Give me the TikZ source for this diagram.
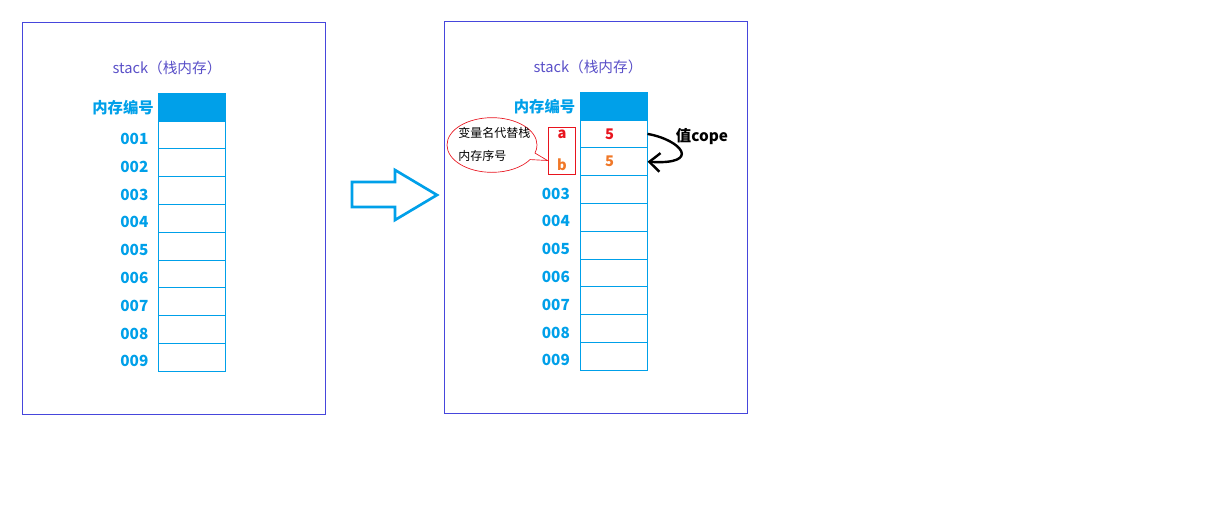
\documentclass[tikz,border=0pt]{standalone}
\usepackage{fontspec}
\setmainfont{Noto Sans CJK SC}
\usetikzlibrary{positioning,shapes.callouts,arrows.meta}
\definecolor{memblue}{HTML}{00A0E9}
\definecolor{frameblue}{HTML}{4646DC}
\definecolor{titleblue}{HTML}{5A50C8}
\definecolor{varred}{HTML}{E8141E}
\definecolor{valorange}{HTML}{F07828}
\tikzset{
  cell/.style={draw=memblue, line width=0.75pt, minimum width=50.25pt,
    minimum height=20.85pt, inner sep=0pt},
  head/.style={cell, fill=memblue},
  addr/.style={text=memblue, font=\bfseries\fontsize{11.5}{13}\selectfont,
    inner sep=0pt, yshift=-3pt},
  panel/.style={draw=frameblue, line width=0.75pt},
  title/.style={text=titleblue, font=\fontsize{11}{13}\selectfont},
  var/.style={font=\bfseries\fontsize{11}{13}\selectfont, inner sep=0pt},
  note/.style={font=\fontsize{9}{11}\selectfont, inner sep=0pt, anchor=west},
}

\begin{document}
\begin{tikzpicture}[x=0.75pt, y=-0.75pt]
\useasboundingbox (0,0) rectangle (1207,512);
% stack before
\draw[panel] (22,22) rectangle (325,414);
\node[title] (ltitle) at (167,68) {stack（栈内存）};
\node[head] (lhead) at (192,107.5) {};
\node[addr, left=3pt of lhead, yshift=3pt] (lhlabel) {内存编号};
\foreach \i in {1,...,9}{
  \node[cell] (L\i) at (192,121+27.8*\i-13.9) {};
  \node[addr, left=7pt of L\i] (la\i) {00\i};
}

% the big arrow
\draw[memblue, line width=2pt] (352,182) -- (395,182) -- (395,170)
  -- (437,195) -- (395,220) -- (395,207) -- (352,207) -- cycle;

% stack after
\draw[panel] (444,21) rectangle (747,413);
\node[title] (rtitle) at (588,67) {stack（栈内存）};
\node[head] (rhead) at (613.5,106.5) {};
\node[addr, left=3pt of rhead, yshift=3pt] (rhlabel) {内存编号};
\foreach \i in {1,...,9}
  \node[cell] (R\i) at (613.5,120+27.8*\i-13.9) {};
\foreach \i in {3,...,9}
  \node[addr, left=7pt of R\i] (ra\i) {00\i};

% variables a and b
\node[draw=varred, line width=0.75pt, minimum width=20.25pt,
  minimum height=35.25pt, inner sep=0pt] (names) at (561.5,150.5) {};
\node[var, text=varred] (va) at (562,134) {a};
\node[var, text=valorange] (vb) at (562,165) {b};
\node[var, text=varred] (v1) at ([xshift=-3pt]R1.center) {5};
\node[var, text=valorange] (v2) at ([xshift=-3pt]R2.center) {5};

\node[ellipse callout, draw=varred, line width=0.5pt, minimum width=67.5pt,
  minimum height=41pt, inner sep=0pt,
  callout absolute pointer={([yshift=-7.5pt]names.west)}] (bubble)
  at (492,145) {};
\node[note] (n1) at (458,133) {变量名代替栈};
\node[note] (n2) at (458,156) {内存序号};

% value copy
\draw[line width=1.8pt, -{Straight Barb[length=8pt, width=14pt]}]
  (R1.east) .. controls (682,140) and (702,165) .. (R2.east);
\node[font=\bfseries\fontsize{11.5}{13}\selectfont] (copy) at (702,137) {值cope};
\end{tikzpicture}
\end{document}
